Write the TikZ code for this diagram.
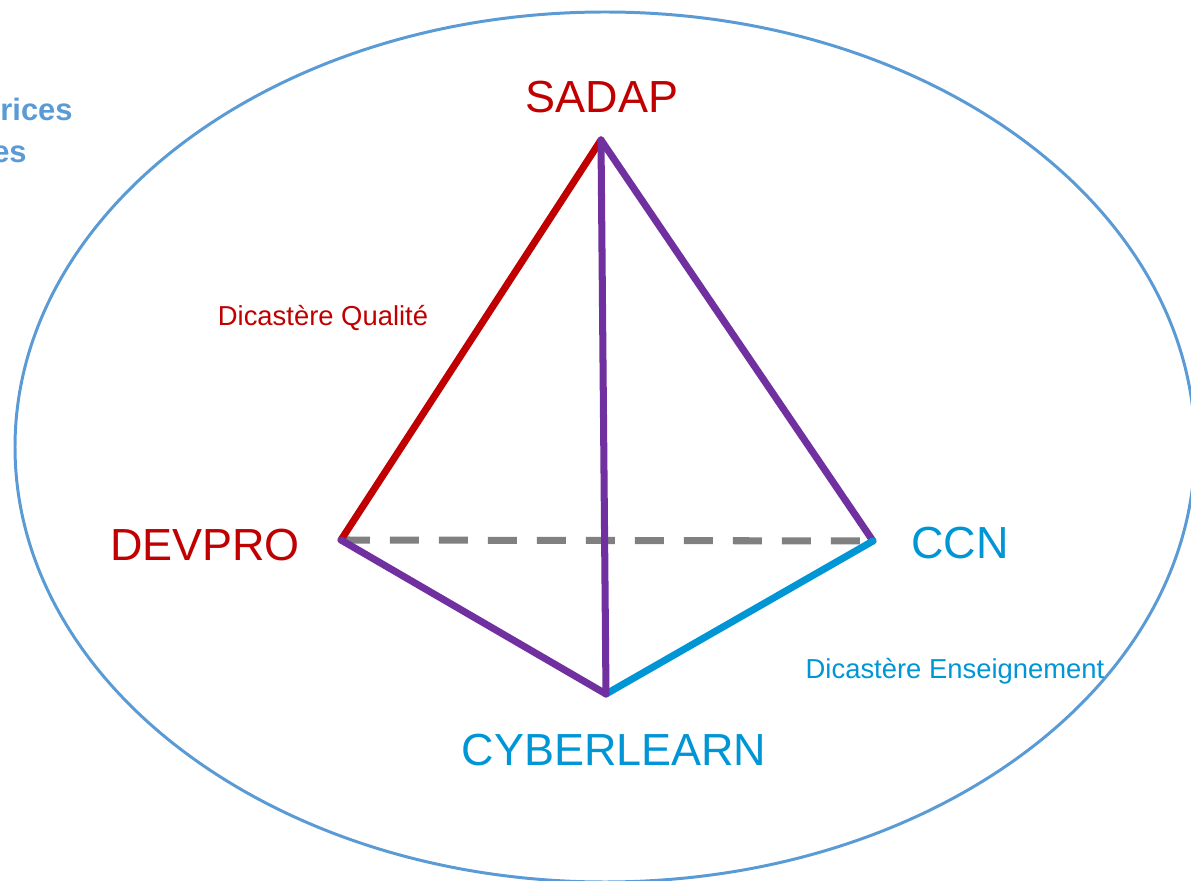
\documentclass[tikz,border=0pt]{standalone}
\usepackage{fontspec}
\setmainfont{Liberation Sans}
\usepackage{tikz}
\definecolor{rouge}{HTML}{C00000}
\definecolor{violet}{HTML}{7030A0}
\definecolor{bleu}{HTML}{0096D6}
\definecolor{bleuclair}{HTML}{5B9BD5}
\definecolor{gris}{HTML}{808080}
\tikzset{
  titre/.style = {inner sep=0pt, font=\fontsize{25.6pt}{30pt}\selectfont},% sommet
  dicastere/.style = {inner sep=0pt, font=\fontsize{15.6pt}{18pt}\selectfont},% dicastere
  coin/.style = {inner sep=0pt, anchor=base east, bleuclair,
    font=\fontsize{17.6pt}{20pt}\selectfont\bfseries},% texte coupe
  arete/.style = {line width=4pt, line cap=round},% arete du tetraedre
  cachee/.style = {gris, line width=4pt, dash pattern=on 0.58cm off 0.4cm}% arete cachee
}

\begin{document}
\begin{tikzpicture}[x=0.02cm, y=-0.02cm]
  \useasboundingbox (0,0) rectangle (1191,881);
  \clip (0,0) rectangle (1191,881);
  \draw [bleuclair, line width=1.7pt] (605,447) ellipse (590 and 435);
  \node [coin] (rices) at (73,121) {rices};
  \node [coin] (es) at (27,163) {es};

  \coordinate (sadap) at (601,140);
  \coordinate (devpro) at (341,540);
  \coordinate (ccn) at (873,541);
  \coordinate (cyberlearn) at (606,694);

  \node [titre, rouge] (sadap label) at (602,97) {SADAP};
  \node [titre, rouge] (devpro label) at (205,545) {DEVPRO};
  \node [titre, bleu] (ccn label) at (960,543) {CCN};
  \node [titre, bleu] (cyberlearn label) at (614,750) {CYBERLEARN};
  \node [dicastere, rouge] (qualite) at (323,318) {Dicastère Qualité};
  \node [dicastere, bleu] (enseignement) at (955,671) {Dicastère Enseignement};

  \draw [cachee] (devpro) -- (ccn);
  \draw [arete, rouge] (sadap) -- (devpro);
  \draw [arete, violet] (sadap) -- (ccn);
  \draw [arete, violet] (devpro) -- (cyberlearn);
  \draw [arete, bleu] (cyberlearn) -- (ccn);
  \draw [arete, violet] (sadap) -- (cyberlearn);
\end{tikzpicture}
\end{document}
